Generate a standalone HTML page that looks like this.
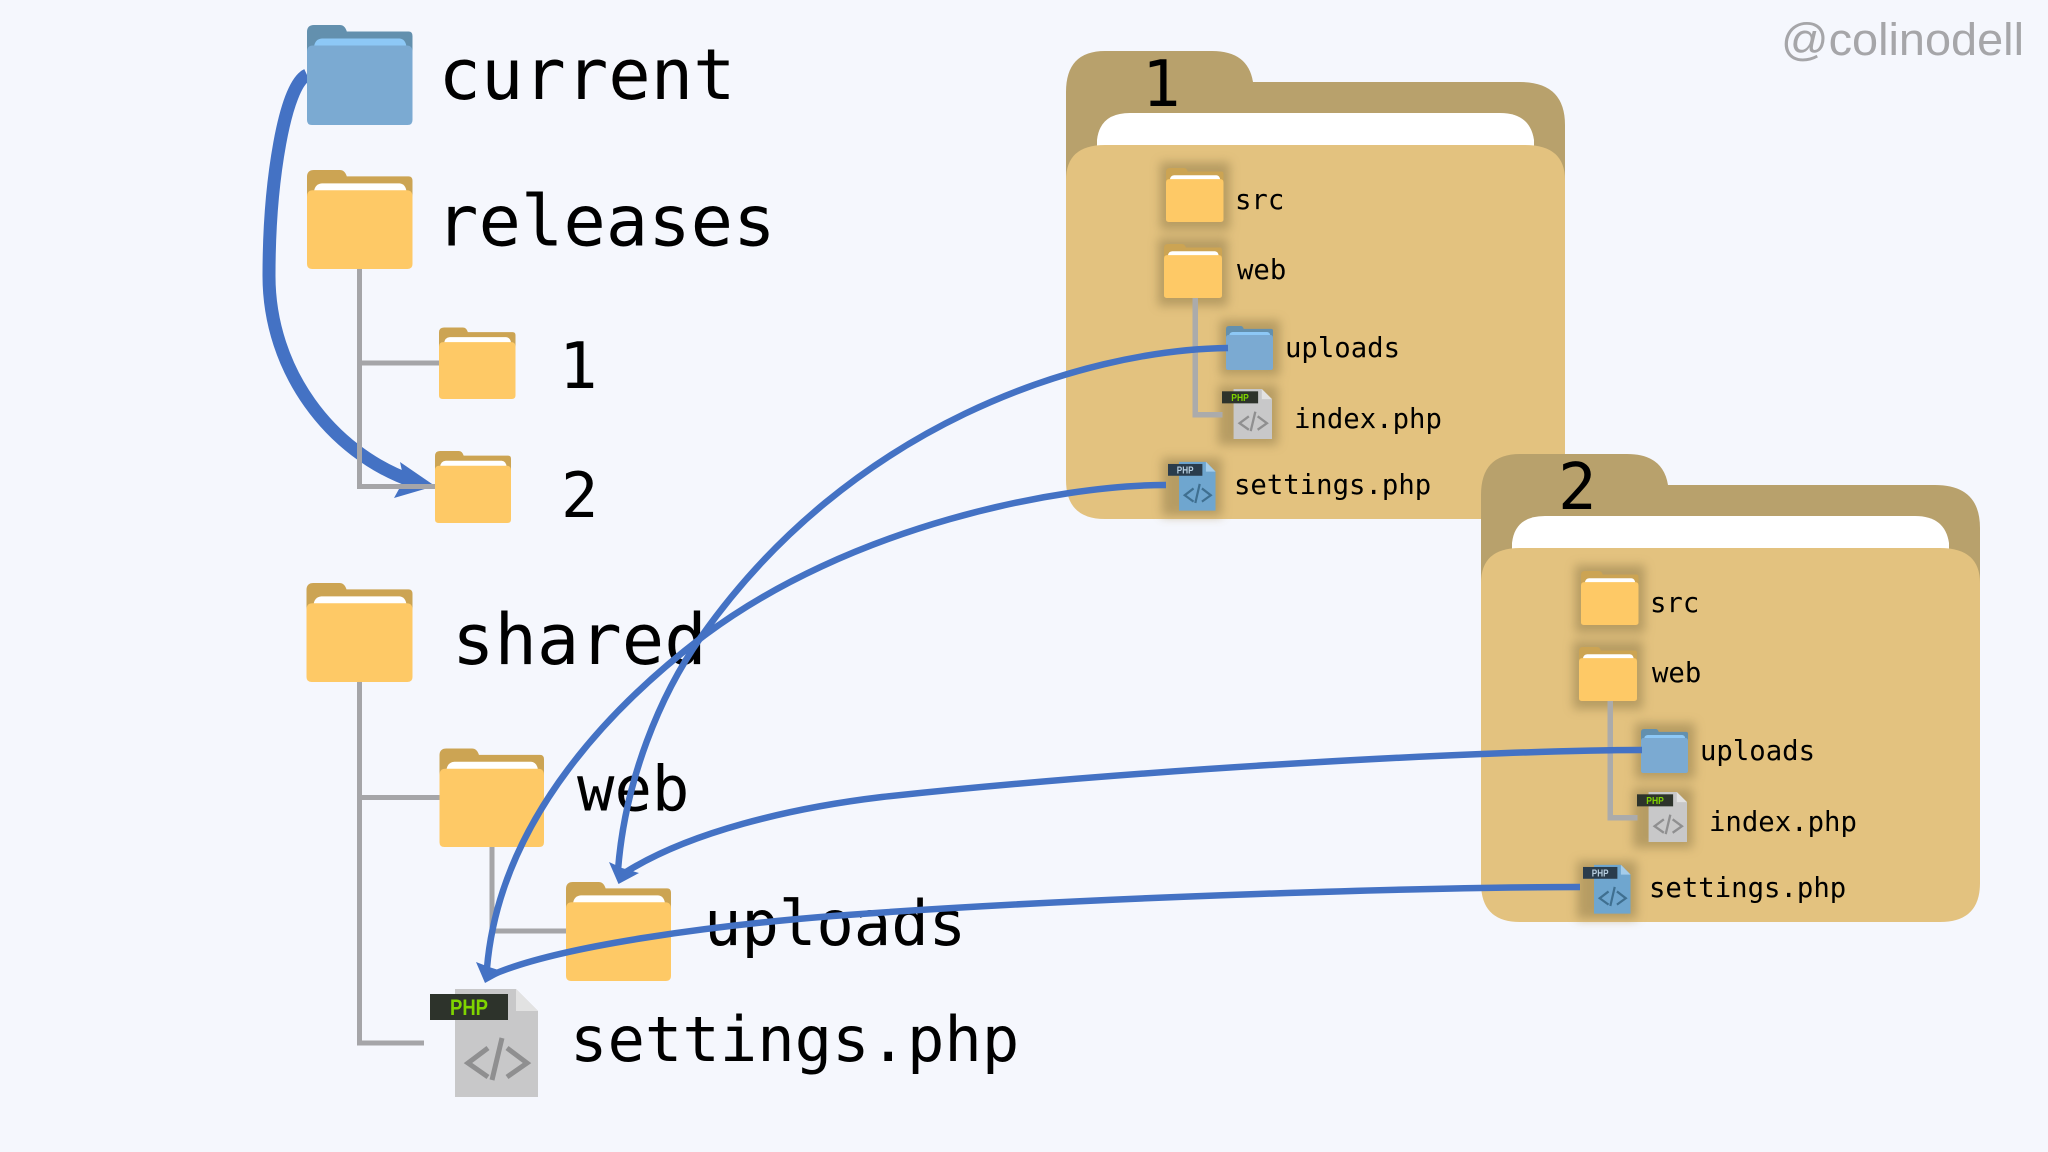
<!DOCTYPE html>
<html>
<head>
<meta charset="utf-8">
<style>
html,body{margin:0;padding:0;background:#f5f7fd;width:2048px;height:1152px;overflow:hidden}
svg{display:block}
.m{font-family:"DejaVu Sans Mono","Liberation Mono",monospace;fill:#000}
.b{font-size:70.500px}
.c{font-size:62.200px}
.s{font-size:27.3px}
</style>
</head>
<body>
<svg width="2048" height="1152" viewBox="0 0 2048 1152" xmlns="http://www.w3.org/2000/svg">
<defs>
<filter id="h" x="-50%" y="-50%" width="200%" height="200%"><feGaussianBlur stdDeviation="5"/></filter>
<symbol id="fy" viewBox="0 0 106 100" preserveAspectRatio="none">
<path d="M0 30V7Q0 0 7 0H33Q38 0 40 6.500H102Q106 6.500 106 11V40H0Z" fill="#cca453"/>
<path d="M7 22Q8 14 15 13.500H93Q99 14 100 22V30H7Z" fill="#fff"/>
<path d="M0 27Q0 20.500 6 20.500H100Q106 20.500 106 27V95Q106 100 101 100H5Q0 100 0 95Z" fill="#fec966"/>
</symbol>
<symbol id="fb" viewBox="0 0 106 100" preserveAspectRatio="none">
<path d="M0 30V7Q0 0 7 0H33Q38 0 40 6.500H102Q106 6.500 106 11V40H0Z" fill="#6390ae"/>
<path d="M7 22Q8 14 15 13.500H93Q99 14 100 22V30H7Z" fill="#8dc8f6"/>
<path d="M0 27Q0 20.500 6 20.500H100Q106 20.500 106 27V95Q106 100 101 100H5Q0 100 0 95Z" fill="#7baad2"/>
</symbol>
<symbol id="pg" viewBox="0 0 108 108" preserveAspectRatio="none">
<path d="M25 0H86L108 22V108H25Z" fill="#c8c8c9"/>
<path d="M86 0L108 22H86Z" fill="#e2e2e2"/>
<rect x="0" y="5" width="78" height="26" fill="#2d332b"/>
<text x="39" y="26" text-anchor="middle" font-family="Liberation Sans,sans-serif" font-size="22" font-weight="bold" fill="#7fd400" textLength="38" lengthAdjust="spacingAndGlyphs">PHP</text>
<path d="M58 59L38 74L58 88M77 59L97 74L77 88M72 49L62 91" fill="none" stroke="#8f8f90" stroke-width="5"/>
</symbol>
<symbol id="pb" viewBox="0 0 108 108" preserveAspectRatio="none">
<path d="M25 0H86L108 22V108H25Z" fill="#6fa6cf"/>
<path d="M86 0L108 22H86Z" fill="#a5cdea"/>
<rect x="0" y="5" width="78" height="26" fill="#2a3c4c"/>
<text x="39" y="26" text-anchor="middle" font-family="Liberation Sans,sans-serif" font-size="22" font-weight="bold" fill="#b8cfe0" textLength="38" lengthAdjust="spacingAndGlyphs">PHP</text>
<path d="M58 59L38 74L58 88M77 59L97 74L77 88M72 49L62 91" fill="none" stroke="#3f6f90" stroke-width="5"/>
</symbol>
<g id="big">
<path d="M1066 200V92Q1066 51 1105 51H1212Q1248 51 1253 82H1520Q1565 82 1565 125V200Z" fill="#b8a16c"/>
<path d="M1097 150V140Q1100 113 1130 113H1500Q1530 113 1534 140V150Z" fill="#fff"/>
<path d="M1066 180Q1066 145 1105 145H1525Q1565 145 1565 180V480Q1565 519 1525 519H1105Q1066 519 1066 480Z" fill="#e3c27f"/>
<g filter="url(#h)" fill="#a8905a" opacity=".75">
<rect x="1160" y="162" width="70" height="68"/>
<rect x="1158" y="238" width="70" height="68"/>
<rect x="1220" y="320" width="60" height="56"/>
<rect x="1218" y="385" width="60" height="60"/>
<rect x="1162" y="458" width="60" height="58"/>
</g>
<rect x="1192.500" y="298" width="5.500" height="119" fill="#ababab"/>
<rect x="1192.500" y="412" width="30" height="5.500" fill="#ababab"/>
<use href="#fy" x="1166" y="168" width="57.500" height="54"/>
<use href="#fy" x="1164" y="244" width="58" height="54"/>
<use href="#fb" x="1226" y="326" width="47" height="44"/>
<use href="#pg" x="1222" y="389" width="50" height="50"/>
<use href="#pb" x="1168" y="461.700" width="47.600" height="49"/>
<text class="m s" x="1235" y="209">src</text>
<text class="m s" x="1237" y="279">web</text>
<text class="m s" x="1285" y="357">uploads</text>
<text class="m s" x="1294" y="428">index.php</text>
<text class="m s" x="1234" y="494">settings.php</text>
</g>
</defs>

<!-- thick arrow under grey lines -->
<path d="M307 75C285 85 269 180 269 276C269 370 330 452 412 481" fill="none" stroke="#4472c4" stroke-width="13"/>
<polygon points="435,486 400,462 404,480 394,498" fill="#4472c4"/>

<!-- tree lines -->
<g fill="none" stroke="#a5a5a8" stroke-width="5">
<path d="M359.500 268V486.500H436M359.500 363H440"/>
<path d="M359.500 682V1043H424M359.500 797.500H441"/>
<path d="M492 847V931H567"/>
</g>

<use href="#fb" x="307" y="25" width="105.500" height="100"/>
<use href="#fy" x="307" y="170" width="105.500" height="99"/>
<use href="#fy" x="439" y="327.500" width="76.500" height="71.500"/>
<use href="#fy" x="435" y="451" width="76" height="72"/>
<use href="#fy" x="306.500" y="583" width="106" height="99"/>
<use href="#fy" x="439.500" y="748.500" width="104.500" height="98.500"/>
<use href="#fy" x="566" y="882" width="105" height="99"/>
<use href="#pg" x="430" y="989" width="108" height="108"/>

<text class="m b" x="438.500" y="99">current</text>
<text class="m b" x="436" y="245.500">releases</text>
<text class="m" x="559" y="388" style="font-size:64px">1</text>
<text class="m" x="561" y="517" style="font-size:62px">2</text>
<text class="m b" x="452" y="664">shared</text>
<text class="m c" x="577" y="810.500">web</text>
<text class="m c" x="704" y="945">uploads</text>
<text class="m c" x="570" y="1061">settings.php</text>

<use href="#big"/>
<use href="#big" transform="translate(415,403)"/>
<text class="m" x="1142" y="106" style="font-size:64px">1</text>
<text class="m" x="1558" y="509" style="font-size:64px">2</text>

<text x="1781" y="55" font-family="Liberation Sans,sans-serif" font-size="45" fill="#a6a6a9" textLength="243" lengthAdjust="spacingAndGlyphs">@colinodell</text>

<!-- connectors -->
<g fill="none" stroke="#4472c4" stroke-width="6.500">
<path d="M1228 348C1080 350 850 425 701 637C660 695 625 780 618 870"/>
<path d="M1166 485C1060 485 850 525 701 638C620 700 500 815 487 968"/>
<path d="M1642 750C1500 750 1150 768 882 797C790 808 690 832 626 872"/>
<path d="M1580 887C1450 887 1100 896 833 916C720 925 560 945 492 975"/>
</g>
<polygon points="618.500,884 609,862 622,868 639,873" fill="#4472c4"/>
<polygon points="485,983 476,962 489,967 505,972" fill="#4472c4"/>
</svg>
</body>
</html>
